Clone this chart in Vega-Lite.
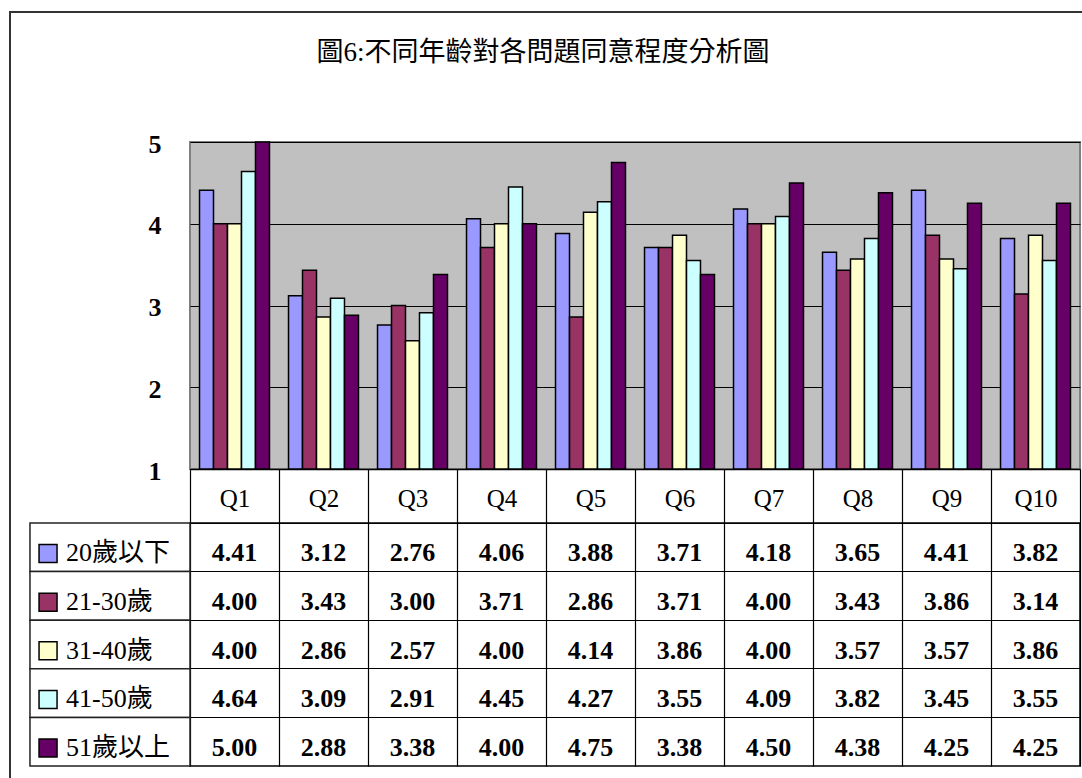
{
  "$schema": "https://vega.github.io/schema/vega-lite/v6.json",
  "background": "white",
  "padding": {"left": 8, "top": 10, "right": 0, "bottom": 0},
  "bounds": "flush",
  "spacing": 54,
  "config": {"font": "Liberation Serif", "axis": {"labelColor": "black"}},
  "datasets": {
    "scores": [
      {"q": "Q1", "qn": 1, "g": "20歲以下", "v": 4.41},
      {"q": "Q2", "qn": 2, "g": "20歲以下", "v": 3.12},
      {"q": "Q3", "qn": 3, "g": "20歲以下", "v": 2.76},
      {"q": "Q4", "qn": 4, "g": "20歲以下", "v": 4.06},
      {"q": "Q5", "qn": 5, "g": "20歲以下", "v": 3.88},
      {"q": "Q6", "qn": 6, "g": "20歲以下", "v": 3.71},
      {"q": "Q7", "qn": 7, "g": "20歲以下", "v": 4.18},
      {"q": "Q8", "qn": 8, "g": "20歲以下", "v": 3.65},
      {"q": "Q9", "qn": 9, "g": "20歲以下", "v": 4.41},
      {"q": "Q10", "qn": 10, "g": "20歲以下", "v": 3.82},
      {"q": "Q1", "qn": 1, "g": "21-30歲", "v": 4.00},
      {"q": "Q2", "qn": 2, "g": "21-30歲", "v": 3.43},
      {"q": "Q3", "qn": 3, "g": "21-30歲", "v": 3.00},
      {"q": "Q4", "qn": 4, "g": "21-30歲", "v": 3.71},
      {"q": "Q5", "qn": 5, "g": "21-30歲", "v": 2.86},
      {"q": "Q6", "qn": 6, "g": "21-30歲", "v": 3.71},
      {"q": "Q7", "qn": 7, "g": "21-30歲", "v": 4.00},
      {"q": "Q8", "qn": 8, "g": "21-30歲", "v": 3.43},
      {"q": "Q9", "qn": 9, "g": "21-30歲", "v": 3.86},
      {"q": "Q10", "qn": 10, "g": "21-30歲", "v": 3.14},
      {"q": "Q1", "qn": 1, "g": "31-40歲", "v": 4.00},
      {"q": "Q2", "qn": 2, "g": "31-40歲", "v": 2.86},
      {"q": "Q3", "qn": 3, "g": "31-40歲", "v": 2.57},
      {"q": "Q4", "qn": 4, "g": "31-40歲", "v": 4.00},
      {"q": "Q5", "qn": 5, "g": "31-40歲", "v": 4.14},
      {"q": "Q6", "qn": 6, "g": "31-40歲", "v": 3.86},
      {"q": "Q7", "qn": 7, "g": "31-40歲", "v": 4.00},
      {"q": "Q8", "qn": 8, "g": "31-40歲", "v": 3.57},
      {"q": "Q9", "qn": 9, "g": "31-40歲", "v": 3.57},
      {"q": "Q10", "qn": 10, "g": "31-40歲", "v": 3.86},
      {"q": "Q1", "qn": 1, "g": "41-50歲", "v": 4.64},
      {"q": "Q2", "qn": 2, "g": "41-50歲", "v": 3.09},
      {"q": "Q3", "qn": 3, "g": "41-50歲", "v": 2.91},
      {"q": "Q4", "qn": 4, "g": "41-50歲", "v": 4.45},
      {"q": "Q5", "qn": 5, "g": "41-50歲", "v": 4.27},
      {"q": "Q6", "qn": 6, "g": "41-50歲", "v": 3.55},
      {"q": "Q7", "qn": 7, "g": "41-50歲", "v": 4.09},
      {"q": "Q8", "qn": 8, "g": "41-50歲", "v": 3.82},
      {"q": "Q9", "qn": 9, "g": "41-50歲", "v": 3.45},
      {"q": "Q10", "qn": 10, "g": "41-50歲", "v": 3.55},
      {"q": "Q1", "qn": 1, "g": "51歲以上", "v": 5.00},
      {"q": "Q2", "qn": 2, "g": "51歲以上", "v": 2.88},
      {"q": "Q3", "qn": 3, "g": "51歲以上", "v": 3.38},
      {"q": "Q4", "qn": 4, "g": "51歲以上", "v": 4.00},
      {"q": "Q5", "qn": 5, "g": "51歲以上", "v": 4.75},
      {"q": "Q6", "qn": 6, "g": "51歲以上", "v": 3.38},
      {"q": "Q7", "qn": 7, "g": "51歲以上", "v": 4.50},
      {"q": "Q8", "qn": 8, "g": "51歲以上", "v": 4.38},
      {"q": "Q9", "qn": 9, "g": "51歲以上", "v": 4.25},
      {"q": "Q10", "qn": 10, "g": "51歲以上", "v": 4.25}
    ]
  },
  "vconcat": [
    {
      "width": 890,
      "height": 327,
      "view": {"fill": "#C0C0C0", "stroke": "#808080", "strokeWidth": 2},
      "title": {
        "text": "圖6:不同年齡對各問題同意程度分析圖",
        "font": "Liberation Serif, Noto Sans CJK TC",
        "fontSize": 27,
        "fontWeight": "normal",
        "color": "black",
        "anchor": "middle",
        "frame": "group",
        "baseline": "middle",
        "dx": -92,
        "offset": 51
      },
      "data": {"name": "scores"},
      "mark": {"type": "bar", "stroke": "black", "strokeWidth": 1.5},
      "encoding": {
        "x": {
          "field": "q",
          "type": "nominal",
          "sort": ["Q1", "Q2", "Q3", "Q4", "Q5", "Q6", "Q7", "Q8", "Q9", "Q10"],
          "scale": {"paddingInner": 0, "paddingOuter": 0},
          "axis": {
            "title": null,
            "labelAngle": 0,
            "labelFont": "Liberation Serif",
            "labelFontSize": 25,
            "labelBaseline": "middle",
            "labelPadding": -25,
            "tickBand": "extent",
            "tickSize": 54,
            "tickColor": "black",
            "tickWidth": 1.2,
            "domainColor": "black",
            "domainWidth": 1.5
          }
        },
        "xOffset": {
          "field": "g",
          "type": "nominal",
          "sort": ["20歲以下", "21-30歲", "31-40歲", "41-50歲", "51歲以上"],
          "scale": {"paddingInner": 0, "paddingOuter": 0.68}
        },
        "y": {
          "field": "v",
          "type": "quantitative",
          "scale": {"domain": [1, 5], "nice": false, "zero": false},
          "axis": {
            "title": null,
            "values": [1, 2, 3, 4, 5],
            "grid": true,
            "gridColor": "black",
            "gridWidth": 1,
            "domain": false,
            "ticks": false,
            "labelFont": "Liberation Serif",
            "labelFontSize": 26,
            "labelFontWeight": "bold",
            "labelPadding": 29,
            "labelOffset": 2
          }
        },
        "y2": {"datum": 1},
        "color": {
          "field": "g",
          "type": "nominal",
          "scale": {
            "domain": ["20歲以下", "21-30歲", "31-40歲", "41-50歲", "51歲以上"],
            "range": ["#9999FF", "#993366", "#FFFFCC", "#CCFFFF", "#660066"]
          },
          "legend": null
        }
      }
    },
    {
      "width": 890,
      "height": 243,
      "view": {"stroke": "black", "strokeWidth": 1.5, "fill": null},
      "resolve": {"scale": {"y": "independent"}},
      "layer": [
        {
          "data": {"values": [{}]},
          "mark": {"type": "rect", "fill": null, "stroke": "#333333", "strokeWidth": 2, "clip": false},
          "encoding": {
            "x": {"datum": -1.5225, "type": "quantitative", "scale": {"domain": [0.5, 10.5], "nice": false, "zero": false}},
            "x2": {"datum": 10.624},
            "y": {"datum": 3.103, "type": "quantitative", "scale": {"domain": [0, 1], "nice": false, "zero": false}, "axis": null},
            "y2": {"datum": -0.103}
          }
        },
        {
          "data": {"name": "scores"},
          "encoding": {
            "y": {
              "field": "g",
              "type": "nominal",
              "sort": ["20歲以下", "21-30歲", "31-40歲", "41-50歲", "51歲以上"],
              "scale": {"domain": ["20歲以下", "21-30歲", "31-40歲", "41-50歲", "51歲以上"], "paddingInner": 0, "paddingOuter": 0},
              "axis": {"title": null, "grid": true, "bandPosition": 0, "labels": false, "ticks": false, "domain": false, "gridColor": "black", "gridWidth": 1.2}
            }
          },
          "layer": [
            {
              "mark": {"type": "text", "font": "Liberation Serif", "fontSize": 26, "fontWeight": "bold", "baseline": "middle", "dy": 6, "color": "black"},
              "encoding": {
                "x": {
                  "field": "qn",
                  "type": "quantitative",
                  "scale": {"domain": [0.5, 10.5], "nice": false, "zero": false},
                  "axis": {"title": null, "values": [0.5, 1.5, 2.5, 3.5, 4.5, 5.5, 6.5, 7.5, 8.5, 9.5, 10.5], "grid": true, "gridColor": "black", "gridWidth": 1.2, "labels": false, "ticks": false, "domain": false}
                },
                "text": {"field": "v", "type": "quantitative", "format": ".2f"}
              }
            },
            {
              "transform": [{"filter": "datum.qn == 1"}],
              "mark": {"type": "rect", "fill": "white", "stroke": "#222222", "strokeWidth": 1.5, "clip": false},
              "encoding": {
                "x": {"datum": -1.298, "type": "quantitative"},
                "x2": {"datum": 0.5}
              }
            },
            {
              "transform": [{"filter": "datum.qn == 1"}],
              "mark": {"type": "point", "shape": "square", "size": 324, "filled": true, "opacity": 1, "stroke": "black", "strokeWidth": 1.5, "clip": false},
              "encoding": {
                "x": {"datum": -1.095, "type": "quantitative"},
                "y": {"field": "g", "type": "nominal", "bandPosition": 0.63},
                "color": {"field": "g", "type": "nominal", "legend": null}
              }
            },
            {
              "transform": [{"filter": "datum.qn == 1"}],
              "mark": {"type": "text", "font": "Liberation Serif, Noto Sans CJK TC", "fontSize": 26, "align": "left", "baseline": "middle", "dy": 6, "color": "black", "clip": false},
              "encoding": {
                "x": {"datum": -0.893, "type": "quantitative"},
                "text": {"field": "g", "type": "nominal"}
              }
            }
          ]
        }
      ]
    }
  ]
}
